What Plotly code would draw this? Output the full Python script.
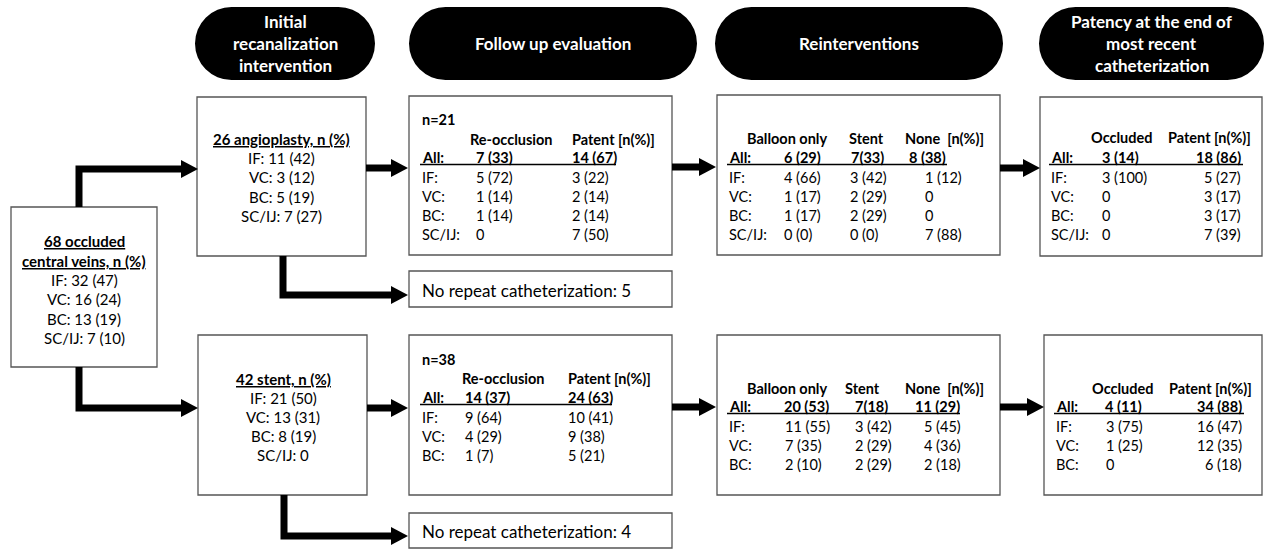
import plotly.graph_objects as go

# ---------------- data ----------------
veins = ["IF:", "VC:", "BC:", "SC/IJ:"]

occluded_total = 68
occluded_n = [32, 16, 13, 7]
occluded_pct = [47, 24, 19, 10]

angio_total = 26
angio_n = [11, 3, 5, 7]
angio_pct = [42, 12, 19, 27]

stent_total = 42
stent_n = [21, 13, 8, 0]
stent_pct = [50, 31, 19, None]

stage_titles = [
    ["Initial", "recanalization", "intervention"],
    ["Follow up evaluation"],
    ["Reinterventions"],
    ["Patency at the end of", "most recent", "catheterization"],
]

fu_cols = ["Re-occlusion", "Patent [n(%)]"]
fu1_n = 21
fu1_all = ["7 (33)", "14 (67)"]
fu1_reocc = ["5 (72)", "1 (14)", "1 (14)", "0"]
fu1_patent = ["3 (22)", "2 (14)", "2 (14)", "7 (50)"]
fu2_n = 38
fu2_all = ["14 (37)", "24 (63)"]
fu2_reocc = ["9 (64)", "4 (29)", "1 (7)"]
fu2_patent = ["10 (41)", "9 (38)", "5 (21)"]

re_cols = ["Balloon only", "Stent", "None\u00a0 [n(%)]"]
re1_all = ["6 (29)", "7(33)", "8 (38)"]
re1_balloon = ["4 (66)", "1 (17)", "1 (17)", "0 (0)"]
re1_stent = ["3 (42)", "2 (29)", "2 (29)", "0 (0)"]
re1_none = ["1 (12)", "0", "0", "7 (88)"]
re2_all = ["20 (53)", "7(18)", "11 (29)"]
re2_balloon = ["11 (55)", "7 (35)", "2 (10)"]
re2_stent = ["3 (42)", "2 (29)", "2 (29)"]
re2_none = ["5 (45)", "4 (36)", "2 (18)"]

pat_cols = ["Occluded", "Patent [n(%)]"]
pat1_all = ["3 (14)", "18 (86)"]
pat1_occ = ["3 (100)", "0", "0", "0"]
pat1_patent = ["5 (27)", "3 (17)", "3 (17)", "7 (39)"]
pat2_all = ["4 (11)", "34 (88)"]
pat2_occ = ["3 (75)", "1 (25)", "0"]
pat2_patent = ["16 (47)", "12 (35)", "6 (18)"]

no_repeat = [5, 4]

# ---------------- drawing ----------------
W, H = 1266, 558
FONT = "Lato"
FS = 14.5
BFS = 15
shapes = []
annotations = []


def txt(x, y, s, bold=False, anchor="left", size=FS, color="black"):
    if bold:
        s = "<b>" + s + "</b>"
    annotations.append(dict(x=x, y=y, text=s, showarrow=False, xref="x", yref="y",
                            xanchor=anchor, yanchor="middle",
                            font=dict(family=FONT, size=size, color=color)))


def box(x0, y0, x1, y1):
    shapes.append(dict(type="rect", x0=x0, y0=y0, x1=x1, y1=y1, xref="x", yref="y",
                       line=dict(color="#555555", width=1.3), fillcolor="rgba(0,0,0,0)"))


def pill(x0, y0, x1, y1):
    r = (y1 - y0) / 2
    shapes.append(dict(type="rect", x0=x0 + r, y0=y0, x1=x1 - r, y1=y1, xref="x", yref="y",
                       line=dict(width=0), fillcolor="black"))
    shapes.append(dict(type="circle", x0=x0, y0=y0, x1=x0 + 2 * r, y1=y1, xref="x", yref="y",
                       line=dict(width=0), fillcolor="black"))
    shapes.append(dict(type="circle", x0=x1 - 2 * r, y0=y0, x1=x1, y1=y1, xref="x", yref="y",
                       line=dict(width=0), fillcolor="black"))


T = 3.5   # half thickness of arrow shaft
HL, HH = 17, 9  # arrow head length / half height


def poly(path):
    shapes.append(dict(type="path", path=path, xref="x", yref="y",
                       line=dict(width=0), fillcolor="black"))


def head(xtip, y):
    poly(f"M {xtip-HL} {y-HH} L {xtip} {y} L {xtip-HL} {y+HH} Z")


def straight_arrow(x0, xtip, y):
    poly(f"M {x0} {y-T} L {xtip-HL+1} {y-T} L {xtip-HL+1} {y+T} L {x0} {y+T} Z")
    head(xtip, y)


def elbow_arrow(x, y0, yc, xtip):
    xe = xtip - HL + 1
    if yc < y0:  # going up
        poly(f"M {x-T} {y0} L {x-T} {yc-T} L {xe} {yc-T} L {xe} {yc+T} L {x+T} {yc+T} L {x+T} {y0} Z")
    else:
        poly(f"M {x-T} {y0} L {x-T} {yc+T} L {xe} {yc+T} L {xe} {yc-T} L {x+T} {yc-T} L {x+T} {y0} Z")
    head(xtip, yc)


def fmt(lab, n, p):
    return f"{lab} {n} ({p})" if p is not None else f"{lab} {n}"


# stage header pills
pill_boxes = [(195, 7, 375, 80), (409, 7, 697, 80), (715, 7, 1003, 80), (1039, 7, 1264, 80)]
for (x0, y0, x1, y1), lines in zip(pill_boxes, stage_titles):
    pill(x0, y0, x1, y1)
    cx = (x0 + x1) / 2
    cy = (y0 + y1) / 2
    n = len(lines)
    for i, s in enumerate(lines):
        txt(cx, cy + (i - (n - 1) / 2) * 22, s, bold=True, anchor="center", size=17, color="white")

# left box
box(11, 207, 157, 367)
txt(84, 241, f"<u>{occluded_total} occluded</u>", bold=True, anchor="center", size=BFS)
txt(84, 261, "<u>central veins, n (%)</u>", bold=True, anchor="center", size=BFS)
for i, (lab, n, p) in enumerate(zip(veins, occluded_n, occluded_pct)):
    txt(84, 280 + i * 19.3, fmt(lab, n, p), anchor="center", size=BFS)

# angioplasty box
box(197, 97, 366, 256)
txt(281, 139, f"<u>{angio_total} angioplasty, n (%)</u>", bold=True, anchor="center", size=BFS)
for i, (lab, n, p) in enumerate(zip(veins, angio_n, angio_pct)):
    txt(281, 158 + i * 19.3, fmt(lab, n, p), anchor="center", size=BFS)

# stent box
box(198, 335, 367, 495)
txt(283, 379, f"<u>{stent_total} stent, n (%)</u>", bold=True, anchor="center", size=BFS)
for i, (lab, n, p) in enumerate(zip(veins, stent_n, stent_pct)):
    txt(283, 398 + i * 19.1, fmt(lab, n, p), anchor="center", size=BFS)


def table(label_x, header_y, all_y, col_x, all_x, anchors, headers, header_x, all_vals,
          cols, line_end, row_dy=19.2, n_text=None, n_y=None):
    if n_text is not None:
        txt(label_x, n_y, n_text, bold=True)
    for hx, h in zip(header_x, headers):
        txt(hx, header_y, h, bold=True)
    txt(label_x, all_y, "All:", bold=True)
    for ax, v, an in zip(all_x, all_vals, anchors):
        txt(ax, all_y, v, bold=True, anchor=an)
    shapes.append(dict(type="line", x0=label_x, x1=line_end, y0=all_y + 7.5, y1=all_y + 7.5,
                       xref="x", yref="y", line=dict(color="black", width=1.6)))
    nrows = len(cols[0])
    for r in range(nrows):
        y = all_y + 20 + r * row_dy
        txt(label_x, y, veins[r])
        for cx, col, an in zip(col_x, cols, anchors):
            txt(cx, y, col[r], anchor=an)


# follow up boxes
box(409, 96, 672, 255)
table(420, 139, 157, [474, 570], [474, 570], ["left", "left"], fu_cols, [468, 570],
      fu1_all, [fu1_reocc, fu1_patent], 616, n_text=f"n={fu1_n}", n_y=119)
box(409, 335, 672, 495)
table(420, 378, 397, [463, 566], [463, 566], ["left", "left"], fu_cols, [460, 566],
      fu2_all, [fu2_reocc, fu2_patent], 612, row_dy=19.2, n_text=f"n={fu2_n}", n_y=359)

# no repeat catheterization boxes
box(409, 271, 672, 307)
txt(420, 290, f"No repeat catheterization: {no_repeat[0]}", size=17)
box(409, 513, 672, 548)
txt(420, 531, f"No repeat catheterization: {no_repeat[1]}", size=17)

# reintervention boxes
box(717, 95, 1000, 255)
table(727, 138, 157, [782, 848, 923], [782, 849, 907], ["left", "left", "left"], re_cols,
      [745, 847, 903], re1_all, [re1_balloon, re1_stent, re1_none], 947)
box(717, 335, 1000, 495)
table(727, 388, 406, [783, 853, 922], [782, 853, 913], ["left", "left", "left"], re_cols,
      [745, 843, 903], re2_all, [re2_balloon, re2_stent, re2_none], 960)

# patency boxes
box(1040, 97, 1262, 256)
table(1049, 137, 157, [1100, 1243], [1100, 1243], ["left", "right"], pat_cols,
      [1089, 1166], pat1_all, [pat1_occ, pat1_patent], 1243)
box(1044, 335, 1262, 495)
table(1054, 388, 406, [1104, 1244], [1103, 1244], ["left", "right"], pat_cols,
      [1090, 1167], pat2_all, [pat2_occ, pat2_patent], 1244)

# arrows
elbow_arrow(79, 207, 169, 198)
elbow_arrow(79, 367, 408, 198)
straight_arrow(366, 408, 168)
elbow_arrow(283, 256, 295, 408)
straight_arrow(367, 408, 408)
elbow_arrow(284, 495, 536, 408)
straight_arrow(672, 716, 167)
straight_arrow(672, 716, 407)
straight_arrow(1000, 1040, 168)
straight_arrow(1000, 1044, 407)

fig = go.Figure()
fig.update_layout(
    width=W, height=H, margin=dict(l=0, r=0, t=0, b=0),
    paper_bgcolor="white", plot_bgcolor="white",
    xaxis=dict(range=[0, W], visible=False, fixedrange=True),
    yaxis=dict(range=[H, 0], visible=False, fixedrange=True),
    shapes=shapes, annotations=annotations, showlegend=False,
)
fig.write_html("out.html", config={"displayModeBar": False},
               post_script="document.body.style.margin='0';document.body.style.overflow='hidden';")
